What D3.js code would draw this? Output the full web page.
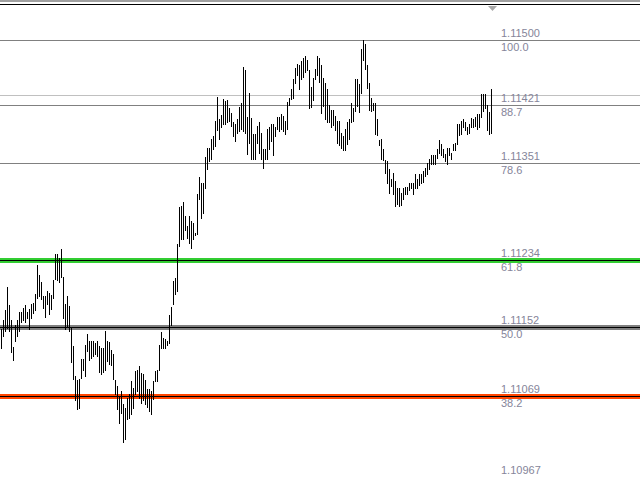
<!DOCTYPE html>
<html lang="en">
<head>
<meta charset="UTF-8">
<title>Fibo bars</title>
<script src="https://cdnjs.cloudflare.com/ajax/libs/d3/7.9.0/d3.min.js"></script>
<style>
    body { margin: 0; padding: 0; background: #fff; }
    svg { display: block; }
    .lbl { font-family: "Liberation Sans", Arial, sans-serif; font-size: 11px; fill: #85859a; }
</style>
</head>
<body>
<div id="chart"></div>
<script>
// bar highs / lows, one bar every 2px, oldest first
const highs = [
    1.11151, 1.11162, 1.11174, 1.11202, 1.11180, 1.11162, 1.11129, 1.11156, 1.11162, 1.11171,
    1.11171, 1.11176, 1.11180, 1.11171, 1.11175, 1.11181, 1.11182, 1.11193, 1.11228, 1.11216,
    1.11208, 1.11191, 1.11191, 1.11197, 1.11194, 1.11192, 1.11210, 1.11242, 1.11242, 1.11237,
    1.11248, 1.11214, 1.11181, 1.11191, 1.11179, 1.11153, 1.11130, 1.11094, 1.11089, 1.11090,
    1.11114, 1.11114, 1.11131, 1.11144, 1.11136, 1.11136, 1.11136, 1.11134, 1.11136, 1.11130,
    1.11127, 1.11128, 1.11148, 1.11136, 1.11135, 1.11125, 1.11120, 1.11089, 1.11082, 1.11068,
    1.11076, 1.11060, 1.11055, 1.11067, 1.11072, 1.11087, 1.11079, 1.11100, 1.11101, 1.11106,
    1.11097, 1.11096, 1.11089, 1.11078, 1.11078, 1.11076, 1.11088, 1.11100, 1.11101, 1.11131,
    1.11147, 1.11140, 1.11139, 1.11136, 1.11167, 1.11177, 1.11209, 1.11213, 1.11254, 1.11298,
    1.11300, 1.11304, 1.11288, 1.11276, 1.11287, 1.11282, 1.11279, 1.11267, 1.11314, 1.11335,
    1.11328, 1.11327, 1.11359, 1.11370, 1.11370, 1.11381, 1.11385, 1.11403, 1.11432, 1.11405,
    1.11410, 1.11430, 1.11427, 1.11428, 1.11418, 1.11413, 1.11401, 1.11399, 1.11405, 1.11420,
    1.11424, 1.11468, 1.11465, 1.11408, 1.11437, 1.11407, 1.11387, 1.11387, 1.11397, 1.11401,
    1.11388, 1.11369, 1.11369, 1.11393, 1.11395, 1.11399, 1.11399, 1.11395, 1.11408, 1.11408,
    1.11411, 1.11409, 1.11403, 1.11426, 1.11431, 1.11442, 1.11454, 1.11467, 1.11472, 1.11471,
    1.11475, 1.11479, 1.11482, 1.11477, 1.11465, 1.11444, 1.11455, 1.11466, 1.11481, 1.11479,
    1.11471, 1.11455, 1.11449, 1.11442, 1.11422, 1.11416, 1.11416, 1.11409, 1.11403, 1.11403,
    1.11388, 1.11385, 1.11393, 1.11401, 1.11405, 1.11424, 1.11419, 1.11454, 1.11454, 1.11448,
    1.11490, 1.11501, 1.11496, 1.11471, 1.11449, 1.11431, 1.11425, 1.11424, 1.11405, 1.11380,
    1.11381, 1.11369, 1.11356, 1.11354, 1.11345, 1.11333, 1.11340, 1.11330, 1.11322, 1.11322,
    1.11316, 1.11321, 1.11323, 1.11323, 1.11328, 1.11327, 1.11328, 1.11338, 1.11333, 1.11338,
    1.11338, 1.11342, 1.11346, 1.11352, 1.11357, 1.11362, 1.11362, 1.11362, 1.11369, 1.11380,
    1.11375, 1.11369, 1.11363, 1.11370, 1.11370, 1.11364, 1.11375, 1.11376, 1.11399, 1.11399,
    1.11403, 1.11405, 1.11401, 1.11395, 1.11399, 1.11407, 1.11405, 1.11408, 1.11411, 1.11411,
    1.11436, 1.11435, 1.11435, 1.11422, 1.11414, 1.11441
];
const lows = [
    1.11127, 1.11142, 1.11148, 1.11152, 1.11148, 1.11123, 1.11113, 1.11136, 1.11142, 1.11148,
    1.11159, 1.11162, 1.11159, 1.11164, 1.11150, 1.11164, 1.11170, 1.11173, 1.11188, 1.11190,
    1.11187, 1.11176, 1.11165, 1.11181, 1.11169, 1.11175, 1.11188, 1.11211, 1.11210, 1.11208,
    1.11214, 1.11164, 1.11150, 1.11154, 1.11148, 1.11110, 1.11090, 1.11064, 1.11054, 1.11055,
    1.11091, 1.11101, 1.11093, 1.11124, 1.11113, 1.11116, 1.11118, 1.11120, 1.11118, 1.11099,
    1.11096, 1.11099, 1.11101, 1.11112, 1.11108, 1.11107, 1.11090, 1.11072, 1.11054, 1.11037,
    1.11049, 1.11013, 1.11017, 1.11042, 1.11043, 1.11048, 1.11055, 1.11072, 1.11076, 1.11067,
    1.11061, 1.11064, 1.11060, 1.11056, 1.11051, 1.11048, 1.11066, 1.11088, 1.11088, 1.11101,
    1.11128, 1.11128, 1.11127, 1.11131, 1.11133, 1.11156, 1.11181, 1.11193, 1.11197, 1.11251,
    1.11260, 1.11260, 1.11270, 1.11261, 1.11255, 1.11249, 1.11260, 1.11264, 1.11266, 1.11308,
    1.11285, 1.11291, 1.11322, 1.11345, 1.11354, 1.11357, 1.11369, 1.11373, 1.11392, 1.11381,
    1.11395, 1.11399, 1.11399, 1.11401, 1.11403, 1.11397, 1.11384, 1.11379, 1.11388, 1.11391,
    1.11393, 1.11391, 1.11388, 1.11363, 1.11376, 1.11357, 1.11357, 1.11357, 1.11376, 1.11364,
    1.11357, 1.11346, 1.11357, 1.11357, 1.11369, 1.11379, 1.11362, 1.11385, 1.11393, 1.11391,
    1.11393, 1.11391, 1.11387, 1.11393, 1.11422, 1.11430, 1.11431, 1.11449, 1.11458, 1.11442,
    1.11454, 1.11456, 1.11462, 1.11465, 1.11419, 1.11420, 1.11428, 1.11454, 1.11459, 1.11450,
    1.11413, 1.11421, 1.11405, 1.11401, 1.11401, 1.11396, 1.11398, 1.11392, 1.11376, 1.11374,
    1.11370, 1.11367, 1.11368, 1.11375, 1.11381, 1.11401, 1.11403, 1.11415, 1.11421, 1.11414,
    1.11437, 1.11477, 1.11466, 1.11443, 1.11416, 1.11415, 1.11416, 1.11387, 1.11386, 1.11374,
    1.11357, 1.11356, 1.11340, 1.11328, 1.11316, 1.11324, 1.11314, 1.11300, 1.11302, 1.11300,
    1.11301, 1.11308, 1.11314, 1.11314, 1.11319, 1.11321, 1.11314, 1.11322, 1.11322, 1.11325,
    1.11327, 1.11329, 1.11336, 1.11338, 1.11344, 1.11351, 1.11351, 1.11351, 1.11358, 1.11364,
    1.11361, 1.11359, 1.11354, 1.11351, 1.11362, 1.11357, 1.11367, 1.11368, 1.11375, 1.11386,
    1.11387, 1.11396, 1.11392, 1.11387, 1.11388, 1.11395, 1.11396, 1.11397, 1.11393, 1.11395,
    1.11408, 1.11415, 1.11418, 1.11392, 1.11387, 1.11388
];

// fibonacci retracement levels
const fibPct   = [100.0, 88.7, 78.6, 61.8, 50.0, 38.2, 23.6];
const fibPrice = [1.11500, 1.11421, 1.11351, 1.11234, 1.11152, 1.11069, 1.10967];

// current bid line
const bidPrice = 1.11434;

const width = 640, height = 480;

// thick levels get a coloured band under the black line
const bandColor = { "61.8": "#32cd32", "50.0": "#808080", "38.2": "#ff4500" };

const svg = d3.select("#chart").append("svg")
    .attr("width", width)
    .attr("height", height);

svg.append("rect").attr("width", width).attr("height", height).attr("fill", "#fff");

const x = d3.scaleLinear().domain([0, highs.length - 1]).range([1.5, 1.5 + 2 * (highs.length - 1)]);
const y = d3.scaleLinear().domain([1.10967, 1.11500]).range([480.4, 40.8]);
const crisp = v => Math.floor(v) + 0.5;

// top border of the chart window
svg.append("rect").attr("x", 0).attr("y", 0).attr("width", width).attr("height", 2).attr("fill", "#a0a0a0");
svg.append("line").attr("x1", 0).attr("x2", width).attr("y1", 4.5).attr("y2", 4.5)
    .attr("stroke", "#000").attr("stroke-width", 1);

// chart shift marker
svg.append("path").attr("d", "M488,6 L497,6 L492.5,11 Z").attr("fill", "#a8a8a8");

// bid line
svg.append("line")
    .attr("x1", 0).attr("x2", width)
    .attr("y1", crisp(y(bidPrice))).attr("y2", crisp(y(bidPrice)))
    .attr("stroke", "#c0c0c0").attr("stroke-width", 1);

const levels = fibPct.map((p, i) => ({ pct: p.toFixed(1), price: fibPrice[i] }));

const lv = svg.append("g").selectAll("g").data(levels).join("g");

lv.filter(d => bandColor[d.pct])
    .append("line")
    .attr("x1", 0).attr("x2", width)
    .attr("y1", d => crisp(y(d.price))).attr("y2", d => crisp(y(d.price)))
    .attr("stroke", d => bandColor[d.pct]).attr("stroke-width", 5);

lv.append("line")
    .attr("x1", 0).attr("x2", width)
    .attr("y1", d => crisp(y(d.price))).attr("y2", d => crisp(y(d.price)))
    .attr("stroke", d => bandColor[d.pct] ? "#000" : "#808080")
    .attr("stroke-width", 1);

// bars, high to low
svg.append("g").selectAll("line").data(highs).join("line")
    .attr("x1", (d, i) => x(i)).attr("x2", (d, i) => x(i))
    .attr("y1", d => Math.round(y(d)))
    .attr("y2", (d, i) => Math.round(y(lows[i])) + 1)
    .attr("stroke", "#000").attr("stroke-width", 1)
    .attr("shape-rendering", "crispEdges");

// level labels (price above the line, percent below)
lv.append("text").attr("class", "lbl")
    .attr("x", 501).attr("y", d => Math.min(crisp(y(d.price)) - 4, 474))
    .text(d => d.price.toFixed(5));

lv.filter(d => crisp(y(d.price)) + 10.5 < height)
    .append("text").attr("class", "lbl")
    .attr("x", 501).attr("y", d => crisp(y(d.price)) + 10.5)
    .text(d => d.pct);
</script>
</body>
</html>
